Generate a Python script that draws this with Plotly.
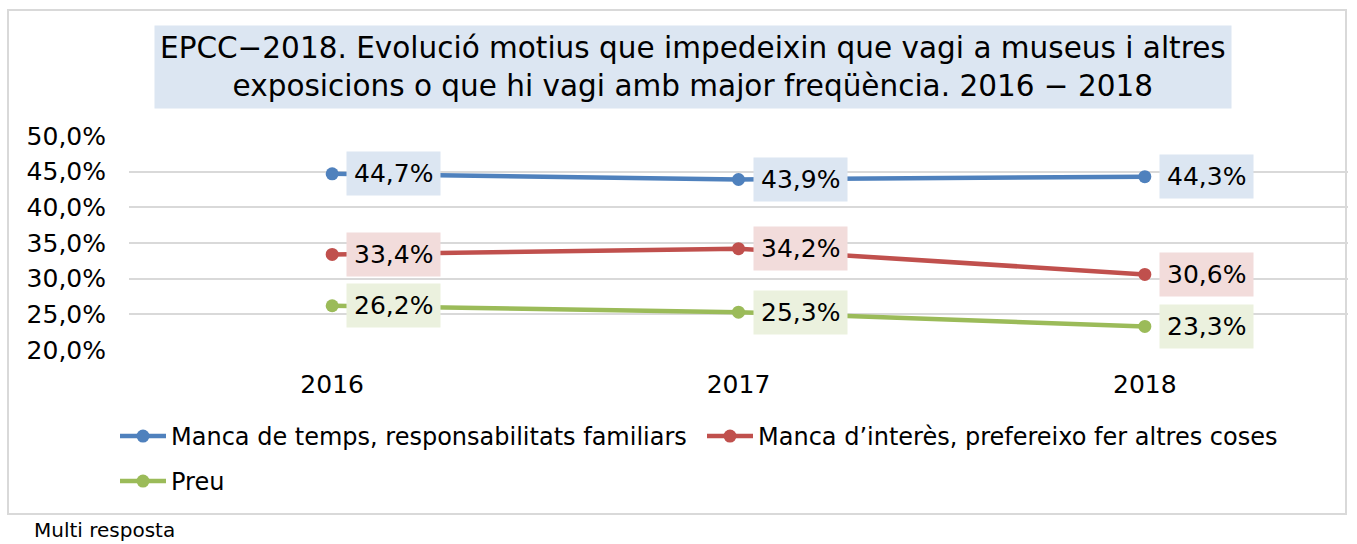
import plotly.graph_objects as go

years = ["2016", "2017", "2018"]
series_names = [
    "Manca de temps, responsabilitats familiars",
    "Manca d\u2019interès, prefereixo fer altres coses",
    "Preu",
]
temps = [0.447, 0.439, 0.443]
interes = [0.334, 0.342, 0.306]
preu = [0.262, 0.253, 0.233]
y_ticks = [0.20, 0.25, 0.30, 0.35, 0.40, 0.45, 0.50]

colors = ["#4F81BD", "#C0504D", "#9BBB59"]
label_bg = ["#DCE6F2", "#F2DCDB", "#EBF1DE"]
legends = ["legend", "legend", "legend2"]
FONT = "DejaVu Sans"

PL, PR, PT, PB = 129, 1348, 136, 350
PW, PH = PR - PL, PB - PT


def px(x):
    return (x - PL) / PW


def py(y):
    return (PB - y) / PH


fig = go.Figure()
annotations = []
for name, vals, c, bg, lg in zip(series_names, [temps, interes, preu], colors, label_bg, legends):
    fig.add_trace(go.Scatter(
        x=years, y=vals, name=name, mode="lines+markers",
        line=dict(color=c, width=4.5), marker=dict(color=c, size=13),
        hoverinfo="skip", legend=lg,
    ))
    for i, v in enumerate(vals):
        annotations.append(dict(
            x=i, y=v, xref="x", yref="y", text=f"{v*100:.1f}%".replace(".", ","),
            showarrow=False, xanchor="left", yanchor="middle", xshift=14,
            bgcolor=bg, borderpad=7, font=dict(family=FONT, size=25, color="#000"),
        ))

annotations.append(dict(
    xref="paper", yref="paper", x=px(32), y=py(530),
    text="Multi resposta", showarrow=False, xanchor="left", yanchor="middle",
    font=dict(family=FONT, size=20, color="#000"),
))
annotations.append(dict(
    xref="paper", yref="paper", x=px(693), y=py(67),
    text="EPCC\u22122018. Evolució motius que impedeixin que vagi a museus i altres<br>exposicions o que hi vagi amb major freqüència. 2016 \u2212 2018",
    showarrow=False, xanchor="center", yanchor="middle", align="center",
    bgcolor="#DCE6F2", borderpad=5,
    font=dict(family=FONT, size=29.5, color="#000"),
))

legend_common = dict(
    orientation="h", xanchor="left", yanchor="top",
    font=dict(family=FONT, size=24, color="#000"),
    itemwidth=46, entrywidth=526, bgcolor="rgba(0,0,0,0)",
)

fig.update_layout(
    width=1357, height=544,
    margin=dict(l=PL, r=1357 - PR, t=PT, b=544 - PB, autoexpand=False),
    paper_bgcolor="white", plot_bgcolor="white",
    separators=", ",
    font=dict(family=FONT, size=25, color="#000"),
    showlegend=True,
    legend=dict(x=px(115), y=py(414), **legend_common),
    legend2=dict(x=px(115), y=py(459), **legend_common),
    annotations=annotations,
    shapes=[dict(type="rect", xref="paper", yref="paper",
                 x0=px(8), x1=px(1346), y0=py(514), y1=py(10),
                 line=dict(color="#D9D9D9", width=2), layer="below")],
)
fig.update_xaxes(type="category", range=[-0.5, 2.5], showgrid=False, showline=False,
                 ticks="", tickfont=dict(family=FONT, size=25), ticklabelstandoff=17)
fig.update_yaxes(range=[0.20, 0.50], tickvals=y_ticks, tickformat=".1%",
                 showgrid=True, gridcolor="#D9D9D9", gridwidth=2, zeroline=False,
                 showline=False, ticks="", tickfont=dict(family=FONT, size=25),
                 ticklabelstandoff=22)

fig.write_html("out.html", config={"displayModeBar": False},
               post_script="document.body.style.margin='0';")
